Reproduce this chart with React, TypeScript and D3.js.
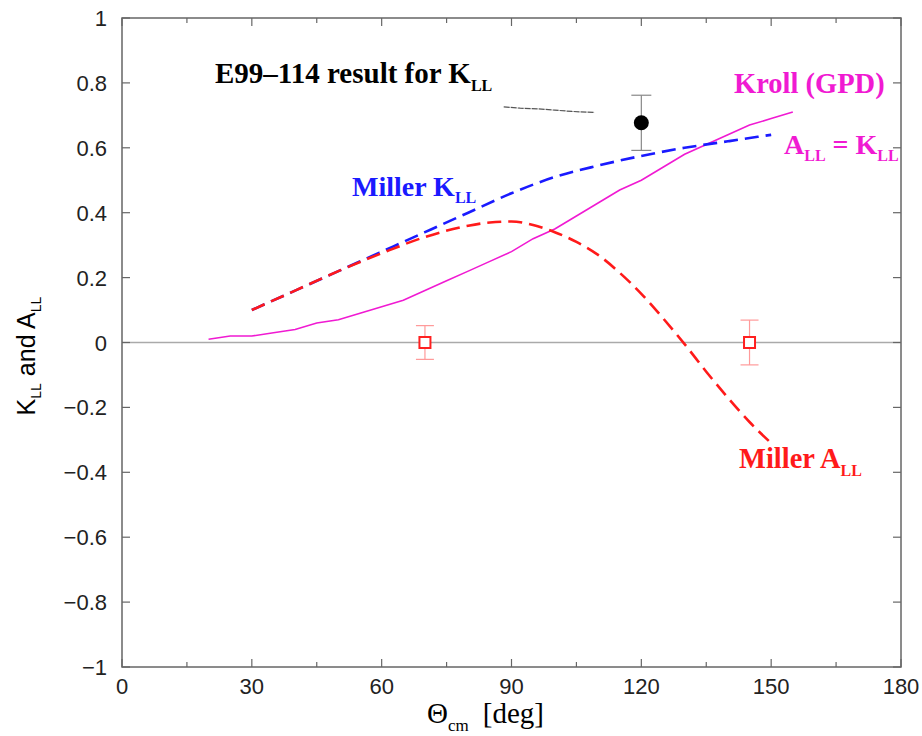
import React from "react";
import * as d3 from "d3";

const krollTheta = [20, 25, 30, 35, 40, 45, 50, 55, 60, 65, 70, 75, 80, 85, 90, 95, 100, 105, 110, 115, 120, 125, 130, 135, 140, 145, 150, 155];
const krollVal = [0.01, 0.02, 0.02, 0.03, 0.04, 0.06, 0.07, 0.09, 0.11, 0.13, 0.16, 0.19, 0.22, 0.25, 0.28, 0.32, 0.35, 0.39, 0.43, 0.47, 0.5, 0.54, 0.58, 0.61, 0.64, 0.67, 0.69, 0.71];

const millerKTheta = [30, 40, 50, 60, 70, 80, 90, 100, 110, 120, 130, 140, 150];
const millerKVal = [0.1, 0.16, 0.22, 0.28, 0.34, 0.4, 0.46, 0.51, 0.545, 0.575, 0.6, 0.62, 0.64];

const millerATheta = [30, 40, 50, 60, 70, 80, 85, 90, 95, 100, 105, 110, 115, 120, 125, 130, 135, 140, 145, 150];
const millerAVal = [0.1, 0.16, 0.22, 0.275, 0.325, 0.36, 0.37, 0.373, 0.362, 0.34, 0.31, 0.27, 0.215, 0.15, 0.075, -0.005, -0.09, -0.17, -0.245, -0.31];

const e99Theta = [120];
const e99Val = [0.677];
const e99Err = [0.085];

const allTheta = [70, 145];
const allVal = [0.0, 0.0];
const allErr = [0.052, 0.069];

const pointerTheta = [88.2, 92, 96, 100, 104, 109.2];
const pointerVal = [0.726, 0.722, 0.72, 0.716, 0.712, 0.709];

const xTicks = [0, 30, 60, 90, 120, 150, 180];
const xMinorTicks = [15, 45, 75, 105, 135, 165];
const yTicks = [-1, -0.8, -0.6, -0.4, -0.2, 0, 0.2, 0.4, 0.6, 0.8, 1];

const W = 922;
const H = 736;
const L = 122, R = 901, T = 18, B = 667;

const fmtY = (v: number) => {
  const s = d3.format("")(Math.round(v * 10) / 10);
  return s.replace("-", "\u2212");
};

export default function App() {
  const x = d3.scaleLinear().domain([0, 180]).range([L, R]);
  const y = d3.scaleLinear().domain([-1, 1]).range([B, T]);

  const line = d3
    .line<[number, number]>()
    .x((d) => x(d[0]))
    .y((d) => y(d[1]));

  const smooth = d3
    .line<[number, number]>()
    .x((d) => x(d[0]))
    .y((d) => y(d[1]))
    .curve(d3.curveMonotoneX);

  const kroll = krollTheta.map((t, i) => [t, krollVal[i]] as [number, number]);
  const mk = millerKTheta.map((t, i) => [t, millerKVal[i]] as [number, number]);
  const ma = millerATheta.map((t, i) => [t, millerAVal[i]] as [number, number]);
  const ptr = pointerTheta.map((t, i) => [t, pointerVal[i]] as [number, number]);

  const axisColor = "#666";
  const magenta = "#f01ad2";
  const serif = "'Liberation Serif', 'Times New Roman', serif";
  const sans = "'Liberation Sans', Arial, sans-serif";

  return (
    <svg
      width={W}
      height={H}
      style={{ position: "absolute", left: 0, top: 0, background: "#fff" }}
      xmlns="http://www.w3.org/2000/svg"
    >
      <rect x={0} y={0} width={W} height={H} fill="#fff" />
      {/* zero line */}
      <line x1={L} x2={R} y1={y(0)} y2={y(0)} stroke="#aaa" strokeWidth={1.5} />

      {/* frame */}
      <rect x={L} y={T} width={R - L} height={B - T} fill="none" stroke={axisColor} strokeWidth={1.5} />

      {/* x ticks */}
      {xTicks.map((t) => (
        <g key={"xt" + t}>
          <line x1={x(t)} x2={x(t)} y1={B} y2={B - 8} stroke={axisColor} strokeWidth={1.2} />
          <line x1={x(t)} x2={x(t)} y1={T} y2={T + 8} stroke={axisColor} strokeWidth={1.2} />
          <text x={x(t)} y={694} textAnchor="middle" fontFamily={sans} fontSize={22} fill="#222">
            {t}
          </text>
        </g>
      ))}
      {xMinorTicks.map((t) => (
        <g key={"xm" + t}>
          <line x1={x(t)} x2={x(t)} y1={B} y2={B - 5} stroke={axisColor} strokeWidth={1.2} />
          <line x1={x(t)} x2={x(t)} y1={T} y2={T + 5} stroke={axisColor} strokeWidth={1.2} />
        </g>
      ))}
      {/* y ticks */}
      {yTicks.map((t) => (
        <g key={"yt" + t}>
          <line x1={L} x2={L + 8} y1={y(t)} y2={y(t)} stroke={axisColor} strokeWidth={1.2} />
          <line x1={R} x2={R - 8} y1={y(t)} y2={y(t)} stroke={axisColor} strokeWidth={1.2} />
          <text x={107} y={y(t) + 8} textAnchor="end" fontFamily={sans} fontSize={22} fill="#222">
            {fmtY(t)}
          </text>
        </g>
      ))}

      {/* Kroll */}
      <path d={line(kroll) || ""} fill="none" stroke={magenta} strokeWidth={1.6} />
      {/* Miller K */}
      <path d={smooth(mk) || ""} fill="none" stroke="#1a1aff" strokeWidth={2.6} strokeDasharray="14,7" />
      {/* Miller A */}
      <path d={smooth(ma) || ""} fill="none" stroke="#ff1a1a" strokeWidth={2.6} strokeDasharray="14,7" />

      {/* pointer */}
      <path d={line(ptr) || ""} fill="none" stroke="#555" strokeWidth={1.2} strokeDasharray="6,1" />

      {/* E99 point */}
      {e99Theta.map((t, i) => (
        <g key={"e" + i}>
          <line x1={x(t)} x2={x(t)} y1={y(e99Val[i] - e99Err[i])} y2={y(e99Val[i] + e99Err[i])} stroke="#888" strokeWidth={1.2} />
          <line x1={x(t) - 10} x2={x(t) + 10} y1={y(e99Val[i] - e99Err[i])} y2={y(e99Val[i] - e99Err[i])} stroke="#888" strokeWidth={1.2} />
          <line x1={x(t) - 10} x2={x(t) + 10} y1={y(e99Val[i] + e99Err[i])} y2={y(e99Val[i] + e99Err[i])} stroke="#888" strokeWidth={1.2} />
          <circle cx={x(t)} cy={y(e99Val[i])} r={7.5} fill="#000" />
        </g>
      ))}

      {/* A_LL points */}
      {allTheta.map((t, i) => (
        <g key={"a" + i}>
          <line x1={x(t)} x2={x(t)} y1={y(allVal[i] - allErr[i])} y2={y(allVal[i] + allErr[i])} stroke="#ff9a9a" strokeWidth={1.2} />
          <line x1={x(t) - 9} x2={x(t) + 9} y1={y(allVal[i] - allErr[i])} y2={y(allVal[i] - allErr[i])} stroke="#ff9a9a" strokeWidth={1.2} />
          <line x1={x(t) - 9} x2={x(t) + 9} y1={y(allVal[i] + allErr[i])} y2={y(allVal[i] + allErr[i])} stroke="#ff9a9a" strokeWidth={1.2} />
          <rect x={x(t) - 5.5} y={y(allVal[i]) - 5.5} width={11} height={11} fill="#fff" stroke="#ff2020" strokeWidth={2} />
        </g>
      ))}

      {/* annotations */}
      <text x={215} y={83} fontFamily={serif} fontWeight="bold" fontSize={29} fill="#000">
        E99–114 result for K
        <tspan fontSize={16} dy={8}>LL</tspan>
      </text>
      <text x={734} y={93} fontFamily={serif} fontWeight="bold" fontSize={28.5} fill={magenta}>
        Kroll (GPD)
      </text>
      <text x={784} y={154} fontFamily={serif} fontWeight="bold" fontSize={28} fill={magenta}>
        A<tspan fontSize={16} dy={7}>LL</tspan>
        <tspan dy={-7}> = K</tspan>
        <tspan fontSize={16} dy={7}>LL</tspan>
      </text>
      <text x={352} y={196} fontFamily={serif} fontWeight="bold" fontSize={28} fill="#1a1aff">
        Miller K<tspan fontSize={16} dy={7}>LL</tspan>
      </text>
      <text x={739} y={468} fontFamily={serif} fontWeight="bold" fontSize={28.5} fill="#ff1a1a">
        Miller A<tspan fontSize={16} dy={8}>LL</tspan>
      </text>

      {/* axis titles */}
      <text x={427} y={723} fontFamily={serif} fontSize={29} fill="#000">
        Θ<tspan fontSize={17} dy={8}>cm</tspan>
        <tspan dy={-8} dx={14}>[deg]</tspan>
      </text>
      <text
        transform={`translate(35, 356) rotate(-90)`}
        textAnchor="middle"
        fontFamily={sans}
        fontSize={25}
        fill="#000"
      >
        K<tspan fontSize={14} dy={6}>LL</tspan>
        <tspan dy={-6}> and A</tspan>
        <tspan fontSize={14} dy={6}>LL</tspan>
      </text>
    </svg>
  );
}
